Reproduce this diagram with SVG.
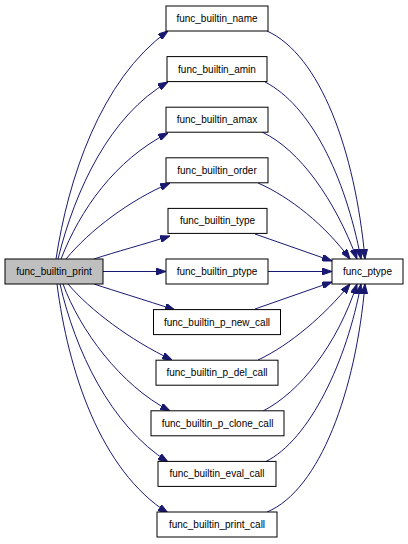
<svg xmlns="http://www.w3.org/2000/svg" width="408" height="544" viewBox="0 0 408 544">
<style>
.node rect{fill:#ffffff;stroke:#000000;stroke-width:1}
.root rect{fill:#bfbfbf}
.node text{font-family:"Liberation Sans",Arial,sans-serif;font-size:10px;text-anchor:middle;fill:#000000}
.edges path{fill:none;stroke:#191970;stroke-width:1;marker-end:url(#arr)}
</style>
<defs>
<marker id="arr" markerUnits="userSpaceOnUse" viewBox="0 0 10 7" refX="10" refY="3.5" markerWidth="10" markerHeight="7" orient="auto">
<path d="M0,0 L10,3.5 L0,7 z" fill="#191970" stroke="#191970"/>
</marker>
</defs>
<rect width="408" height="544" fill="#ffffff"/>
<g id="connectors" class="edges">
<path d="M56,259 C68,180 100,80 168,31"/>
<path d="M58,259 C75,190 110,115 168,82"/>
<path d="M61,259 C80,210 115,160 168,133"/>
<path d="M66,259 C90,230 130,200 170,183"/>
<path d="M94,259 C115,252 145,244 170,236"/>
<path d="M103,271.5 L166,271.5"/>
<path d="M94,284 C115,291 145,300 175,310"/>
<path d="M68,284 C90,310 130,340 172,360"/>
<path d="M63,284 C80,330 120,385 170,411"/>
<path d="M60,284 C75,350 110,425 168,462"/>
<path d="M57,284 C68,370 100,470 168,513"/>
<path d="M267,31 C320,55 355,150 365,259"/>
<path d="M265,82 C310,105 345,175 361,259"/>
<path d="M262,132 C300,150 335,200 357,259"/>
<path d="M258,183 C290,197 325,225 350,259"/>
<path d="M255,234 L332,261"/>
<path d="M268,271.5 L332,271.5"/>
<path d="M255,309 L332,282"/>
<path d="M258,360 C290,345 325,315 350,284"/>
<path d="M263,411 C300,392 337,345 357,284"/>
<path d="M265,462 C310,440 347,360 361,284"/>
<path d="M267,512 C320,490 356,390 365,284"/>
</g>
<g id="func_builtin_print" class="node root"><rect x="5" y="259" width="98" height="25"/><text x="54" y="275">func_builtin_print</text></g>
<g id="func_ptype" class="node"><rect x="332" y="259" width="71" height="25"/><text x="367.5" y="275">func_ptype</text></g>
<g id="func_builtin_name" class="node"><rect x="166" y="6" width="102" height="25"/><text x="217" y="22">func_builtin_name</text></g>
<g id="func_builtin_amin" class="node"><rect x="167" y="56.6" width="100" height="25"/><text x="217" y="72.6">func_builtin_amin</text></g>
<g id="func_builtin_amax" class="node"><rect x="166" y="107.2" width="102" height="25"/><text x="217" y="123.2">func_builtin_amax</text></g>
<g id="func_builtin_order" class="node"><rect x="166" y="157.8" width="102" height="25"/><text x="217" y="173.8">func_builtin_order</text></g>
<g id="func_builtin_type" class="node"><rect x="168" y="208.4" width="99" height="25"/><text x="217.5" y="224.4">func_builtin_type</text></g>
<g id="func_builtin_ptype" class="node"><rect x="166" y="259" width="102" height="25"/><text x="217" y="275">func_builtin_ptype</text></g>
<g id="func_builtin_p_new_call" class="node"><rect x="153.5" y="309.6" width="127" height="25"/><text x="217" y="325.6">func_builtin_p_new_call</text></g>
<g id="func_builtin_p_del_call" class="node"><rect x="156" y="360.2" width="122" height="25"/><text x="217" y="376.2">func_builtin_p_del_call</text></g>
<g id="func_builtin_p_clone_call" class="node"><rect x="151" y="410.8" width="133" height="25"/><text x="217.5" y="426.8">func_builtin_p_clone_call</text></g>
<g id="func_builtin_eval_call" class="node"><rect x="158" y="461.4" width="118" height="25"/><text x="217" y="477.4">func_builtin_eval_call</text></g>
<g id="func_builtin_print_call" class="node"><rect x="157" y="512" width="120" height="25"/><text x="217" y="528">func_builtin_print_call</text></g>
</svg>
